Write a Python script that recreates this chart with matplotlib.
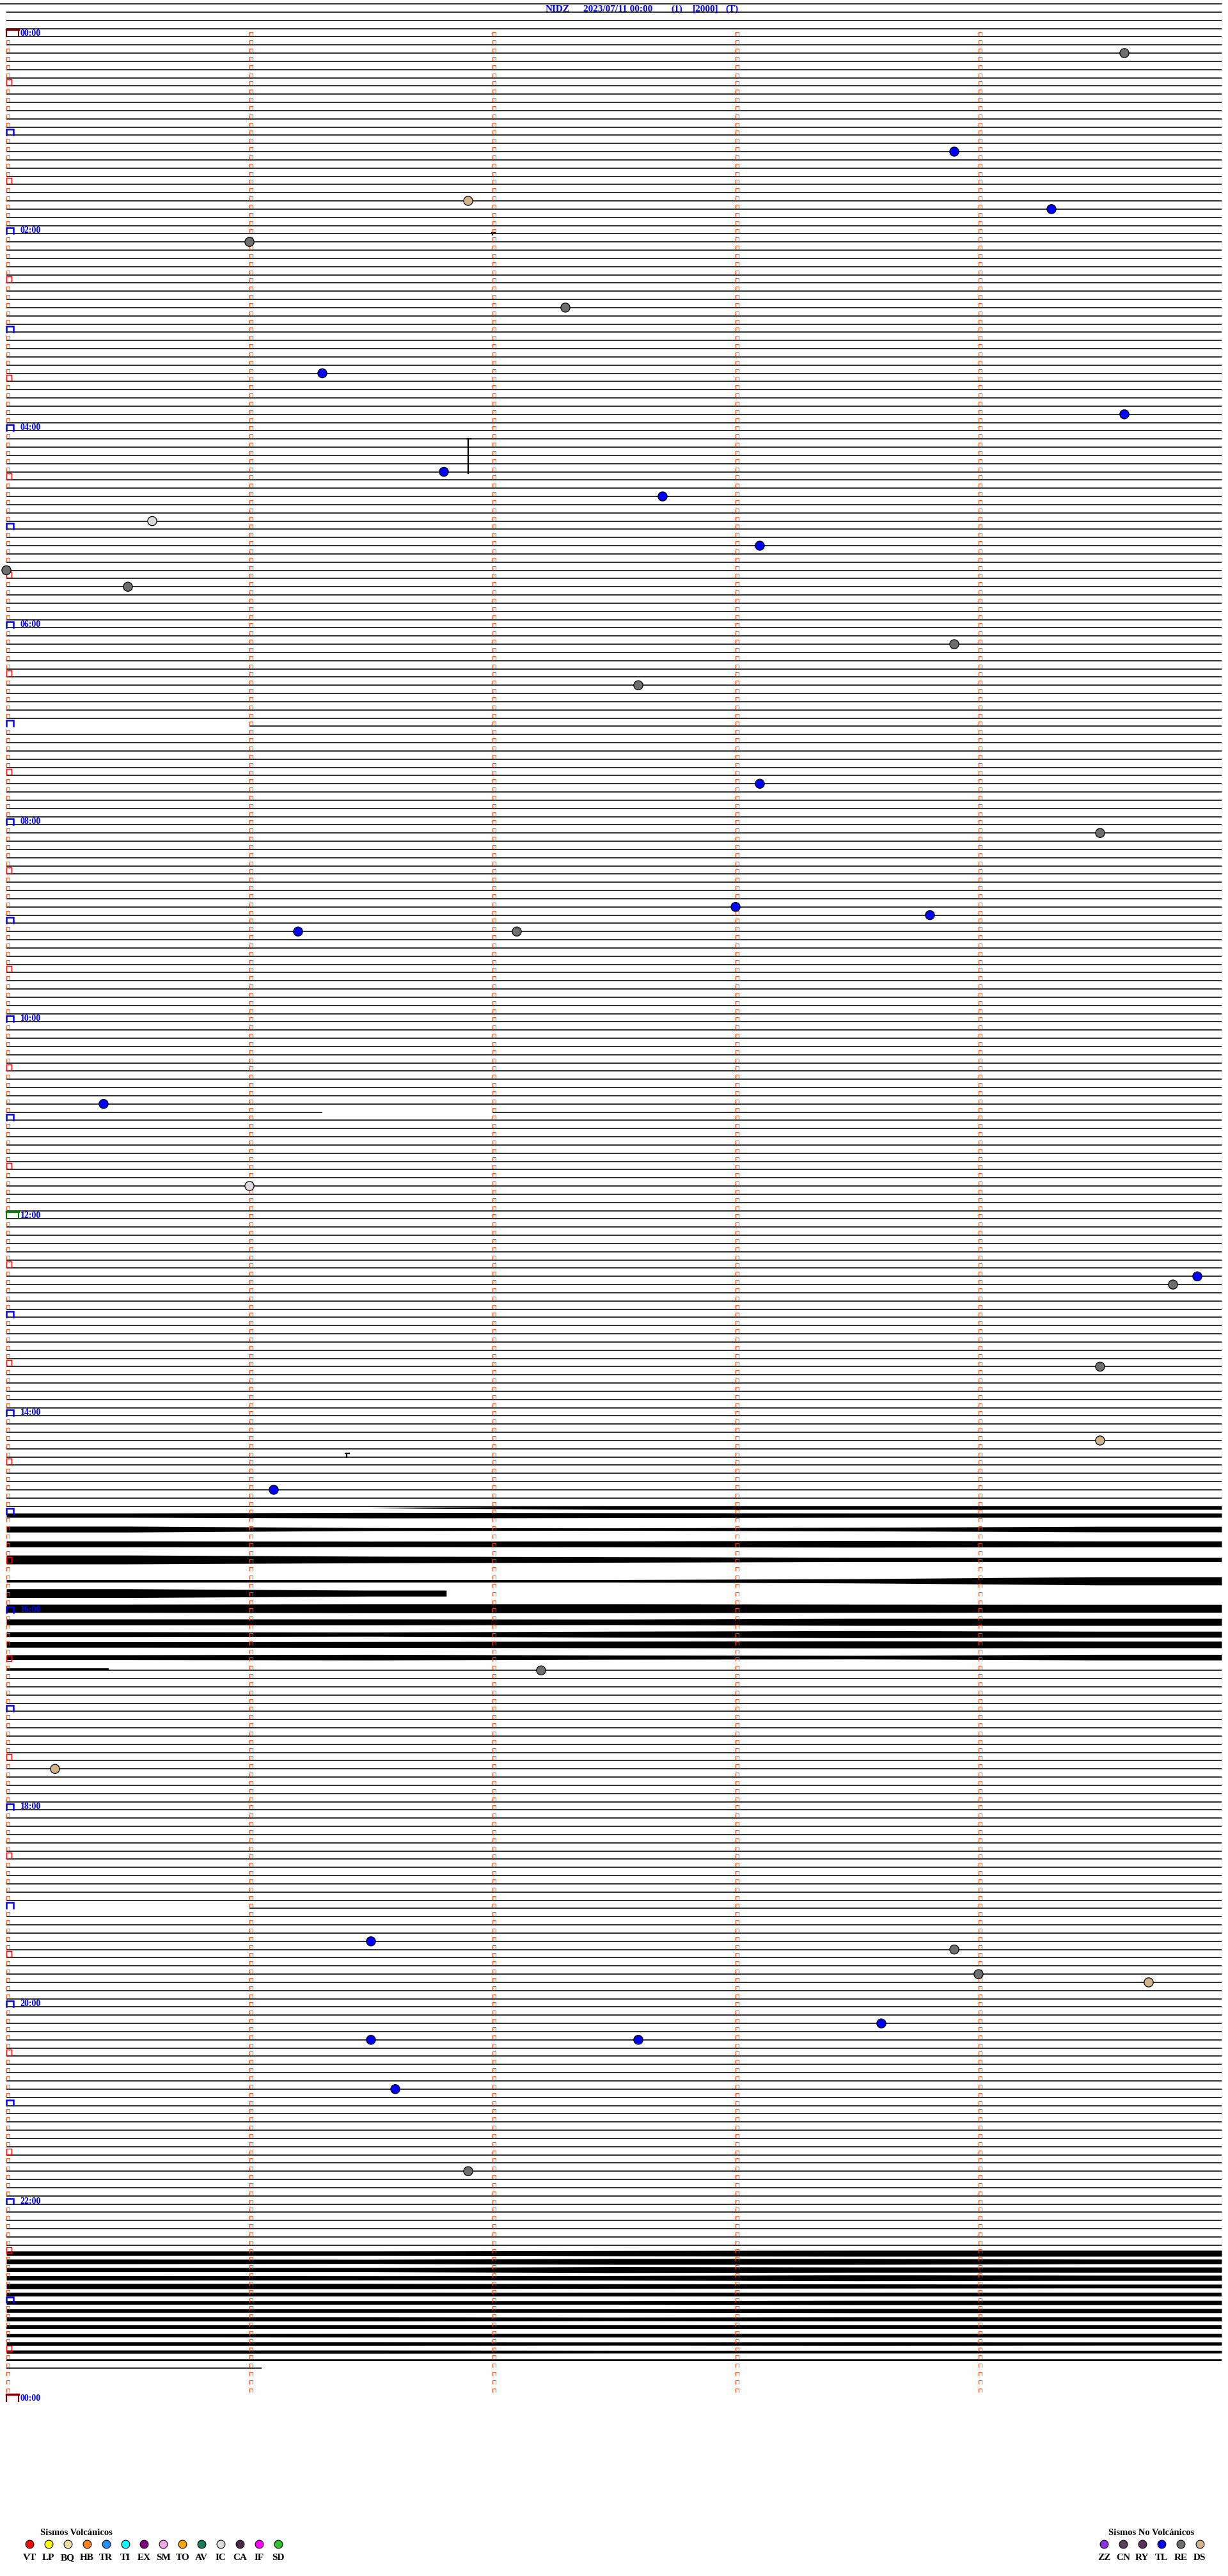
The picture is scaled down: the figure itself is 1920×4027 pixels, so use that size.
import numpy as np
import matplotlib
matplotlib.use("Agg")
import matplotlib.pyplot as plt
from matplotlib.collections import LineCollection

# ---- datos ----
title_parts = ["NIDZ", "2023/07/11 00:00", "(1)", "[2000]", "(T)"]
row_minutes = 5
first_row_time = -20          # minutos del primer renglon (23:40 del dia anterior)
n_rows = 289
data_end = 1421.05            # minuto donde termina la senal
gaps = [(420.0, 421.0), (656.3, 657.0), (1140.0, 1141.0)]   # huecos sin datos (min)
hour_labels = ["00:00", "02:00", "04:00", "06:00", "08:00", "10:00", "12:00",
               "14:00", "16:00", "18:00", "20:00", "22:00", "00:00"]

# eventos clasificados: minuto del dia y tipo
ev_time = [14.6, 73.9, 101.9, 109.3, 126.0, 167.3, 206.3, 234.6, 266.8, 282.7,
           295.6, 313.1, 325.0, 335.5, 373.9, 397.6, 458.1, 489.5, 533.0, 538.8,
           546.2, 547.1, 650.4, 701.0, 759.9, 764.8, 814.5, 859.5, 886.1, 997.2,
           1055.2, 1161.5, 1168.9, 1184.0, 1189.7, 1213.6, 1221.5, 1222.6, 1251.6, 1301.9]
ev_type = ["RE", "TL", "DS", "TL", "RE", "RE", "TL", "TL", "TL", "TL",
           "IC", "TL", "RE", "RE", "RE", "RE", "TL", "RE", "TL", "TL",
           "TL", "RE", "TL", "IC", "TL", "RE", "RE", "DS", "TL", "RE",
           "DS", "TL", "RE", "RE", "DS", "TL", "TL", "TL", "TL", "RE"]

volc_codes = ["VT", "LP", "BQ", "HB", "TR", "TI", "EX", "SM", "TO", "AV", "IC", "CA", "IF", "SD"]
volc_colors = ["#ff0000", "#ffff00", "#f0e0a8", "#ff8010", "#2090ff", "#00ffff", "#800080",
               "#f0a8e8", "#ffa500", "#1a7a5a", "#dcdcdc", "#4a2a4a", "#ff00ff", "#30c030"]
novolc_codes = ["ZZ", "CN", "RY", "TL", "RE", "DS"]
novolc_colors = ["#8a30e0", "#5a4060", "#5a3060", "#0000ff", "#6e6e6e", "#d2b48c"]
type_color = dict(zip(volc_codes + novolc_codes, volc_colors + novolc_colors))

# trazas con ruido: renglon central, semiancho por minuto (en renglones), inicio, fin
noisy_rows = list(range(184, 203)) + list(range(274, 287))
traces = [
    (184.1, [0.26, 0.34, 0.30, 0.26, 0.26], 0, 5),
    (185.8, [0.36, 0.18, 0.15, 0.22, 0.34], 0, 5),
    (187.6, [0.36, 0.34, 0.36, 0.40, 0.36], 0, 5),
    (189.5, [0.54, 0.40, 0.34, 0.26, 0.26], 0, 5),
    (192.1, [0.15, 0.15, 0.15, 0.26, 0.50], 0, 5),
    (193.6, [0.54, 0.36], 0, 1.81),
    (195.45, [0.50, 0.54, 0.54, 0.50, 0.48], 0, 5),
    (197.1, [0.36, 0.36, 0.34, 0.43, 0.43], 0, 5),
    (198.6, [0.30, 0.26, 0.36, 0.43, 0.36], 0, 5),
    (199.85, [0.34, 0.36, 0.40, 0.43, 0.40], 0, 5),
    (201.4, [0.30, 0.34, 0.26, 0.22, 0.34], 0, 5),
    (183.2, [0.0, 0.06, 0.18, 0.18, 0.18], 1.85, 5),
    (202.85, [0.12], 0, 0.42),
    (274, [0.28, 0.28, 0.33, 0.36, 0.36], 0, 5),
    (275, [0.28, 0.26, 0.36, 0.36, 0.28], 0, 5),
    (276, [0.26, 0.26, 0.36, 0.32, 0.32], 0, 5),
    (277, [0.28, 0.26, 0.28, 0.36, 0.32], 0, 5),
    (278, [0.32, 0.32, 0.28, 0.26, 0.23], 0, 5),
    (279, [0.22, 0.22, 0.22, 0.22, 0.22], 0, 5),
    (280, [0.22, 0.22, 0.22, 0.26, 0.26], 0, 5),
    (281, [0.22, 0.22, 0.22, 0.26, 0.26], 0, 5),
    (282, [0.26, 0.26, 0.22, 0.26, 0.26], 0, 5),
    (283, [0.22, 0.22, 0.22, 0.22, 0.22], 0, 5),
    (284, [0.20, 0.22, 0.22, 0.22, 0.22], 0, 5),
    (285, [0.22, 0.22, 0.20, 0.22, 0.20], 0, 5),
    (286, [0.20, 0.20, 0.17, 0.17, 0.17], 0, 5),
    (287.08, [0.08, 0.08, 0.08, 0.08, 0.08], 0, 5),
]

# pequenas marcas sueltas (minuto del dia, extension arriba/abajo en renglones)
glitches = [(246.9, 0.0, 4.2), (122.0, -0.12, 0.12), (866.4, -0.45, 0.0)]

# ---- figura ----
W, H = 1920, 4027
X0, DX = 10, 380        # px: inicio del renglon y px por minuto
Y0, DY = 6, 12.834      # px: primer renglon y separacion
fig = plt.figure(figsize=(W / 100, H / 100), dpi=100)
ax = fig.add_axes([0, 0, 1, 1])
ax.axis("off")
ax.set_xlim(-X0 / DX, (W - X0) / DX)
ax.set_ylim((H - Y0) / DY, -Y0 / DY)


def px(x, y):
    return (x - X0) / DX, (y - Y0) / DY


def pos(t):
    return (t - first_row_time) % row_minutes, int((t - first_row_time) // row_minutes)


serif = "Liberation Serif"

# lineas base
segs = []
for r in range(n_rows):
    if r in noisy_rows:
        continue
    t0 = first_row_time + r * row_minutes
    t1 = min(t0 + row_minutes, data_end)
    pieces = [(t0, t1)]
    for g0, g1 in gaps:
        new = []
        for a, b in pieces:
            if g1 <= a or g0 >= b:
                new.append((a, b))
                continue
            if g0 > a:
                new.append((a, g0))
            if g1 < b:
                new.append((g1, b))
        pieces = new
    for a, b in pieces:
        if b > a:
            left = a - t0 if r > 0 else -X0 / DX
            segs.append([(left, r), (b - t0, r)])
ax.add_collection(LineCollection(segs, colors="black", linewidths=1.15))

# trazas con ruido: semiancho leido al centro de cada minuto, unido por rectas
for c, amps, m0, m1 in traces:
    n = len(amps)
    xs = [m0] + [min(m0 + 0.5, (m0 + m1) / 2) if n == 1 else k + 0.5 for k in range(n)] + [m1]
    if n > 1:
        xs[1] = max(xs[1], m0)
        xs[-2] = min(xs[-2], m1)
    a = np.array([amps[0]] + list(amps) + [amps[-1]])
    ax.fill_between(xs, c - a, c + a, color="black", linewidth=0)

# marcas sueltas
for t, up, down in glitches:
    m, r = pos(t)
    ax.plot([m, m], [r + up, r + down], color="black", lw=1.6)
    ax.plot([m - 1.5 / DX, m + 4 / DX], [r + up, r + up], color="black", lw=1.6)

# marcas de minuto
mw, mt, mb = 5 / DX, 7 / DY, 1 / DY
small = []
for r in range(4, 292):
    t0 = first_row_time + r * row_minutes
    for k in range(5):
        if k == 0 and t0 % 30 == 0:
            continue
        small.append([(k, r - mb), (k, r - mt), (k + mw, r - mt), (k + mw, r - mb)])
ax.add_collection(LineCollection(small, colors="#ff4a10", linewidths=0.75))

for r in range(4, 293):
    t0 = first_row_time + r * row_minutes
    if t0 % 1440 == 0 or t0 == 720:
        col = "#800000" if t0 != 720 else "#008000"
        w, h = 19 / DX, 11 / DY
        ax.plot([0, 0, w, w], [r, r - h, r - h, r], color=col, lw=1.5, solid_joinstyle="miter")
        ax.plot([0, w], [r - h, r - h], color=col, lw=2.5)
    elif t0 % 60 == 0:
        w, h = 11 / DX, 9 / DY
        ax.plot([0, 0, w, w], [r - 0.5 / DY, r - h, r - h, r - 0.5 / DY], color="#0000ff",
                lw=1.8, solid_joinstyle="miter")
    elif t0 % 30 == 0:
        w, h = 8 / DX, 9 / DY
        ax.plot([0, 0, w, w, 0], [r - 1 / DY, r - h - 1 / DY, r - h - 1 / DY, r - 1 / DY, r - 1 / DY],
                color="#ff0000", lw=1.0)

# etiquetas de hora
for i, lab in enumerate(hour_labels):
    r = (i * 120 - first_row_time) / row_minutes
    ax.text(px(31.5, 0)[0], r - 1 / DY, lab, color="#0000ff", fontsize=10, fontweight="bold",
            family=serif, ha="left", va="baseline")

# eventos
em, er = zip(*[pos(t) for t in ev_time])
ax.scatter(em, er, s=105, c=[type_color[k] for k in ev_type], edgecolors="black",
           linewidths=0.9, zorder=5)

# titulo
for xp, s in zip([853, 912, 1049, 1083, 1134], title_parts):
    x, y = px(xp, 17.5)
    ax.text(x, y, s, color="#0000ff", fontsize=11, fontweight="bold", family=serif,
            ha="left", va="baseline")

# leyendas
x, y = px(63, 3963)
ax.text(x, y, "Sismos Volcánicos", fontsize=10.5, fontweight="bold", family=serif,
        ha="left", va="baseline")
for i, (code, col) in enumerate(zip(volc_codes, volc_colors)):
    cx, cy = px(46 + 29.9 * i, 3977)
    ax.scatter([cx], [cy], s=85, c=col, edgecolors="black", linewidths=0.8, zorder=5)
    lx, ly = px(46 + 29.9 * i, 4002)
    ax.text(lx, ly, code, fontsize=11, fontweight="bold", family=serif, ha="center", va="baseline")

x, y = px(1733, 3963)
ax.text(x, y, "Sismos No Volcánicos", fontsize=10.5, fontweight="bold", family=serif,
        ha="left", va="baseline")
for i, (code, col) in enumerate(zip(novolc_codes, novolc_colors)):
    cx, cy = px(1726 + 30 * i, 3977)
    ax.scatter([cx], [cy], s=85, c=col, edgecolors="black", linewidths=0.8, zorder=5)
    lx, ly = px(1726 + 30 * i, 4002)
    ax.text(lx, ly, code, fontsize=11, fontweight="bold", family=serif, ha="center", va="baseline")

fig.savefig("out.png", dpi=100, facecolor="white")
